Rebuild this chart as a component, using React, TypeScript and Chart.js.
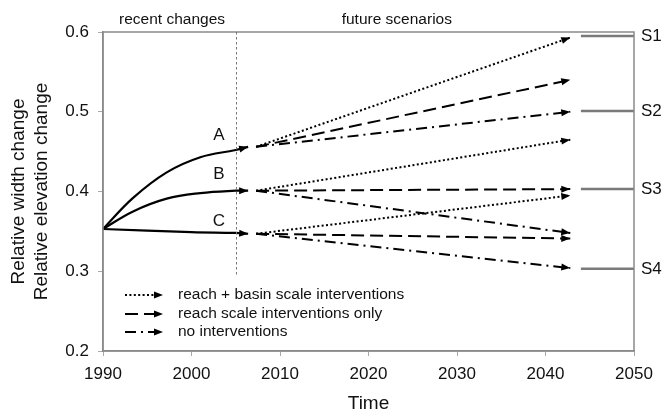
import React, { useEffect, useRef } from 'react';
import { Chart, registerables } from 'chart.js';

Chart.register(...registerables);

// ---- data ----
const xTickYears = [1990, 2000, 2010, 2020, 2030, 2040, 2050];
const yTickValues = [0.2, 0.3, 0.4, 0.5, 0.6];

const curveAYears = [1990, 1993.4, 1997.2, 2001, 2005, 2006.4];
const curveAValues = [0.353, 0.392, 0.424, 0.443, 0.452, 0.456];
const curveBYears = [1990, 1993.4, 1997.2, 2001, 2005, 2006.4];
const curveBValues = [0.353, 0.375, 0.391, 0.398, 0.401, 0.401];
const curveCYears = [1990, 2000, 2005, 2006.4];
const curveCValues = [0.353, 0.349, 0.348, 0.347];

const futureYears = [2007.3, 2042.8];
const aDotted = [0.456, 0.593];
const aDashed = [0.456, 0.54];
const aDashDot = [0.456, 0.5];
const bDotted = [0.401, 0.465];
const bDashed = [0.401, 0.403];
const bDashDot = [0.401, 0.348];
const cDotted = [0.347, 0.395];
const cDashed = [0.347, 0.341];
const cDashDot = [0.347, 0.304];

const scenarioYears = [2044, 2050];
const scenarioLabels = ['S1', 'S2', 'S3', 'S4'];
const scenarioValues = [0.595, 0.501, 0.403, 0.303];

const curveLabels = ['A', 'B', 'C'];
const curveLabelYears = [2003.1, 2003.1, 2003.1];
const curveLabelValues = [0.471, 0.421, 0.362];

const periodLabels = ['recent changes', 'future scenarios'];
const periodLabelYears = [1997.8, 2023.2];
const dividerYear = 2005;
const dividerBottomValue = 0.295;

const legendLabels = ['reach + basin scale interventions', 'reach scale interventions only', 'no interventions'];

const FONT = '"Liberation Sans", Arial, Helvetica, sans-serif';
const DOT = [2, 2.4];
const DASH = [13, 6];
const DASHDOT = [11, 5, 2, 5];

const pts = (xs: number[], ys: number[]) => xs.map((x, i) => ({ x, y: ys[i] }));

export default function App() {
  const ref = useRef<HTMLCanvasElement | null>(null);

  useEffect(() => {
    document.body.style.margin = '0';
    const canvas = ref.current;
    if (!canvas) return;

    const lineDs = (data: any[], dash: number[], width = 2, color = '#000', arrow = true, curve = false) => ({
      data,
      borderColor: color,
      borderWidth: width,
      borderDash: dash,
      pointRadius: 0,
      fill: false,
      tension: curve ? 0.4 : 0,
      arrow,
    });

    const datasets: any[] = [
      lineDs(pts(curveAYears, curveAValues), [], 2.2, '#000', true, true),
      lineDs(pts(curveBYears, curveBValues), [], 2.2, '#000', true, true),
      lineDs(pts(curveCYears, curveCValues), [], 2.2, '#000', true, true),
      lineDs(pts(futureYears, aDotted), DOT),
      lineDs(pts(futureYears, aDashed), DASH),
      lineDs(pts(futureYears, aDashDot), DASHDOT),
      lineDs(pts(futureYears, bDotted), DOT),
      lineDs(pts(futureYears, bDashed), DASH),
      lineDs(pts(futureYears, bDashDot), DASHDOT),
      lineDs(pts(futureYears, cDotted), DOT),
      lineDs(pts(futureYears, cDashed), DASH),
      lineDs(pts(futureYears, cDashDot), DASHDOT),
      ...scenarioValues.map((v) => lineDs(pts(scenarioYears, [v, v]), [], 2.5, '#7a7a7a', false)),
    ];

    const drawArrow = (ctx: CanvasRenderingContext2D, x0: number, y0: number, x1: number, y1: number, len = 9, half = 3.5) => {
      const ang = Math.atan2(y1 - y0, x1 - x0);
      ctx.save();
      ctx.translate(x1, y1);
      ctx.rotate(ang);
      ctx.beginPath();
      ctx.moveTo(0, 0);
      ctx.lineTo(-len, -half);
      ctx.lineTo(-len, half);
      ctx.closePath();
      ctx.fillStyle = '#000';
      ctx.fill();
      ctx.restore();
    };

    const plugin = {
      id: 'decor',
      afterDatasetsDraw(chart: any) {
        const ctx: CanvasRenderingContext2D = chart.ctx;
        chart.data.datasets.forEach((ds: any, i: number) => {
          if (!ds.arrow) return;
          const meta = chart.getDatasetMeta(i);
          const n = meta.data.length;
          const p1 = meta.data[n - 1];
          const p0 = meta.data[n - 2];
          drawArrow(ctx, p0.x, p0.y, p1.x, p1.y);
        });
      },
      afterDraw(chart: any) {
        const ctx: CanvasRenderingContext2D = chart.ctx;
        const { left, right, top, bottom } = chart.chartArea;
        const xs = chart.scales.x;
        const ys = chart.scales.y;
        ctx.save();
        // box border
        ctx.strokeStyle = '#8a8a8a';
        ctx.lineWidth = 1.5;
        ctx.setLineDash([]);
        ctx.strokeRect(left, top, right - left, bottom - top);

        // divider
        const dx = Math.round(xs.getPixelForValue(dividerYear)) + 0.5;
        ctx.strokeStyle = '#777';
        ctx.lineWidth = 1;
        ctx.setLineDash([2.5, 2.5]);
        ctx.beginPath();
        ctx.moveTo(dx, top);
        ctx.lineTo(dx, ys.getPixelForValue(dividerBottomValue));
        ctx.stroke();
        ctx.setLineDash([]);

        ctx.fillStyle = '#111';
        ctx.textBaseline = 'middle';
        // period labels
        ctx.font = `15.5px ${FONT}`;
        ctx.textAlign = 'center';
        periodLabels.forEach((t, i) => ctx.fillText(t, xs.getPixelForValue(periodLabelYears[i]), top - 12));

        // curve labels
        ctx.font = `17px ${FONT}`;
        curveLabels.forEach((t, i) => ctx.fillText(t, xs.getPixelForValue(curveLabelYears[i]), ys.getPixelForValue(curveLabelValues[i])));

        // scenario labels
        ctx.textAlign = 'left';
        scenarioLabels.forEach((t, i) => ctx.fillText(t, right + 7, ys.getPixelForValue(scenarioValues[i])));

        // axis titles
        ctx.font = `19px ${FONT}`;
        ctx.textAlign = 'center';
        ctx.fillText('Time', (left + right) / 2, 404);
        ctx.save();
        ctx.translate(19, (top + bottom) / 2);
        ctx.rotate(-Math.PI / 2);
        ctx.fillText('Relative width change', 0, 0);
        ctx.restore();
        ctx.save();
        ctx.translate(42, (top + bottom) / 2);
        ctx.rotate(-Math.PI / 2);
        ctx.fillText('Relative elevation change', 0, 0);
        ctx.restore();

        // legend
        const dashes = [DOT, DASH, DASHDOT];
        const lx0 = left + 22;
        const lx1 = left + 60;
        const lys = [bottom - 56, bottom - 37, bottom - 19];
        ctx.font = `15.5px ${FONT}`;
        ctx.textAlign = 'left';
        legendLabels.forEach((t, i) => {
          ctx.strokeStyle = '#000';
          ctx.lineWidth = 2;
          ctx.setLineDash(dashes[i]);
          ctx.beginPath();
          ctx.moveTo(lx0, lys[i]);
          ctx.lineTo(lx1 - 4, lys[i]);
          ctx.stroke();
          ctx.setLineDash([]);
          drawArrow(ctx, lx0, lys[i], lx1, lys[i]);
          ctx.fillStyle = '#111';
          ctx.fillText(t, left + 75, lys[i]);
        });
        ctx.restore();
      },
    };

    const chart = new Chart(canvas, {
      type: 'line',
      data: { datasets },
      options: {
        animation: false,
        responsive: false,
        devicePixelRatio: 1,
        layout: { padding: { top: 32, right: 29, left: 0, bottom: 0 } },
        plugins: { legend: { display: false }, tooltip: { enabled: false } },
        scales: {
          x: {
            type: 'linear',
            min: 1990,
            max: 2050,
            afterFit: (s: any) => { s.height = 63; },
            afterBuildTicks: (s: any) => { s.ticks = xTickYears.map((v) => ({ value: v })); },
            ticks: { color: '#111', font: { family: FONT, size: 17 }, padding: 8, callback: (v: any) => String(v), maxRotation: 0 },
            grid: { drawOnChartArea: false, drawTicks: true, tickLength: 5, color: '#aaa' },
            border: { color: '#8a8a8a', width: 1.5 },
          },
          y: {
            type: 'linear',
            min: 0.2,
            max: 0.6,
            afterFit: (s: any) => { s.width = 103; },
            afterBuildTicks: (s: any) => { s.ticks = yTickValues.map((v) => ({ value: v })); },
            ticks: { color: '#111', font: { family: FONT, size: 17 }, padding: 9, callback: (v: any) => Number(v).toFixed(1) },
            grid: { drawOnChartArea: false, drawTicks: true, tickLength: 5, color: '#aaa' },
            border: { color: '#8a8a8a', width: 1.5 },
          },
        },
      } as any,
      plugins: [plugin],
    });
    return () => chart.destroy();
  }, []);

  return <canvas ref={ref} width={663} height={414} style={{ display: 'block' }} />;
}
